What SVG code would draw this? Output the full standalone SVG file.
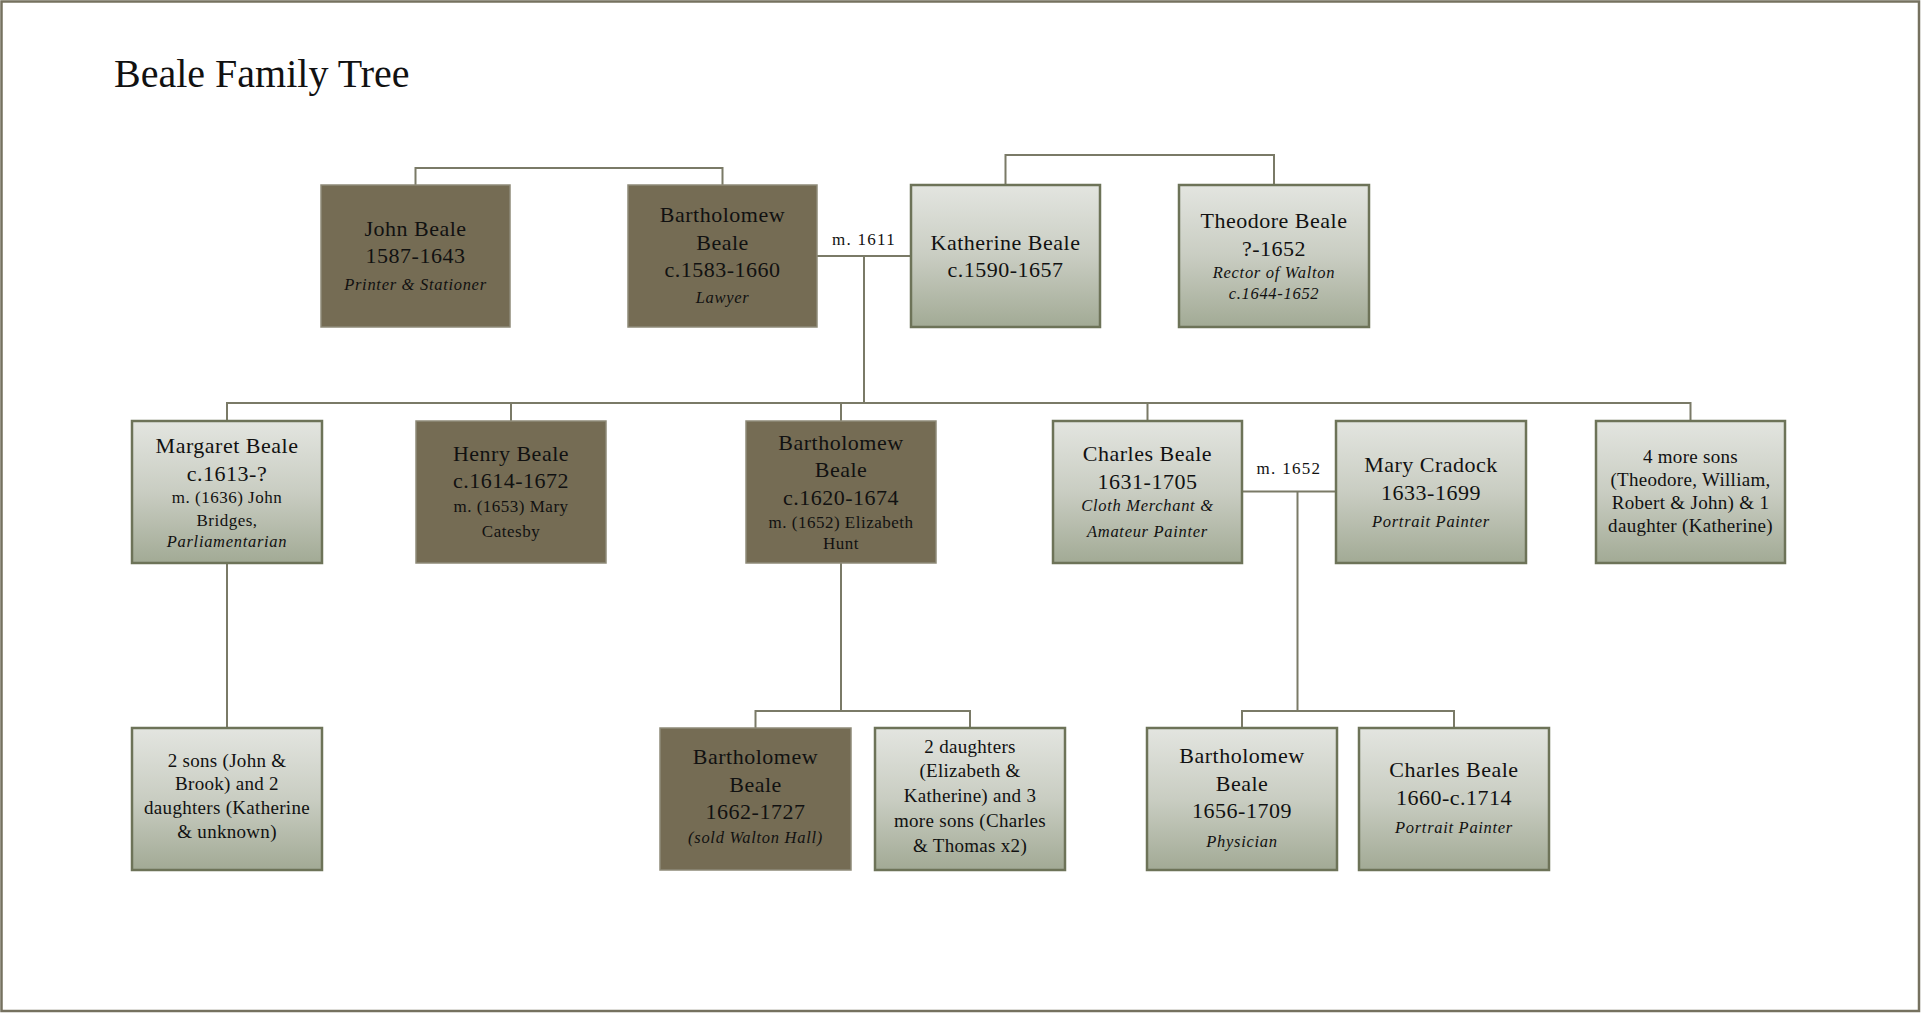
<svg xmlns="http://www.w3.org/2000/svg" width="1922" height="1013" viewBox="0 0 1922 1013">
<defs>
<linearGradient id="lg" x1="0" y1="0" x2="0" y2="1">
<stop offset="0" stop-color="#e3e5e0"/>
<stop offset="0.5" stop-color="#c9cdc2"/>
<stop offset="1" stop-color="#a2aa95"/>
</linearGradient>
<style>
.dark{fill:#756c54;stroke:#8e8a78;stroke-width:1.5}
.light{fill:url(#lg);stroke:#6d7358;stroke-width:2.5}
.conn{fill:none;stroke:#7a7a67;stroke-width:2}
text{font-family:"Liberation Serif","Times New Roman",serif;fill:#111;text-anchor:middle}
.nm{font-size:22px;letter-spacing:0.5px}
.it{font-size:16.5px;font-style:italic;letter-spacing:0.7px}
.sm{font-size:17px;letter-spacing:0.5px}
.md{font-size:19px;letter-spacing:0.3px}
.lbl{font-size:17px;letter-spacing:1.3px}
.title{font-size:40px;text-anchor:start}
</style>
</defs>
<rect x="0" y="0" width="1922" height="1013" fill="#ffffff"/>
<rect x="1.5" y="1.5" width="1917.5" height="1009.5" fill="none" stroke="#75715f" stroke-width="2.5"/>
<text class="title" x="114" y="87">Beale Family Tree</text>

<g id="connectors">
<path class="conn" d="M415.5,185 V168 H722.5 V185"/>
<path class="conn" d="M1005.5,185 V155 H1274 V185"/>
<path class="conn" d="M817,256 H911"/>
<path class="conn" d="M864,256 V403"/>
<path class="conn" d="M227,421 V403 H1690.5 V421"/>
<path class="conn" d="M511,403 V421 M841,403 V421 M1147.5,403 V421"/>
<path class="conn" d="M1242,491.5 H1336"/>
<path class="conn" d="M1297.5,491.5 V711"/>
<path class="conn" d="M227,563 V728"/>
<path class="conn" d="M841,563 V711"/>
<path class="conn" d="M755.5,728 V711 H970 V728"/>
<path class="conn" d="M1242,728 V711 H1454 V728"/>
<text class="lbl" x="864" y="245">m. 1611</text>
<text class="lbl" x="1289" y="474">m. 1652</text>
</g>

<g id="john-beale">
<rect class="dark" x="321" y="185" width="189" height="142"/>
<text class="nm" x="415.5" y="236">John Beale</text>
<text class="nm" x="415.5" y="263">1587-1643</text>
<text class="it" x="415.5" y="290">Printer &amp; Stationer</text>
</g>

<g id="bartholomew-beale-1583">
<rect class="dark" x="628" y="185" width="189" height="142"/>
<text class="nm" x="722.5" y="222">Bartholomew</text>
<text class="nm" x="722.5" y="250">Beale</text>
<text class="nm" x="722.5" y="277">c.1583-1660</text>
<text class="it" x="722.5" y="303">Lawyer</text>
</g>

<g id="katherine-beale">
<rect class="light" x="911" y="185" width="189" height="142"/>
<text class="nm" x="1005.5" y="250">Katherine Beale</text>
<text class="nm" x="1005.5" y="277">c.1590-1657</text>
</g>

<g id="theodore-beale">
<rect class="light" x="1179" y="185" width="190" height="142"/>
<text class="nm" x="1274" y="228">Theodore Beale</text>
<text class="nm" x="1274" y="256">?-1652</text>
<text class="it" x="1274" y="278">Rector of Walton</text>
<text class="it" x="1274" y="299">c.1644-1652</text>
</g>

<g id="margaret-beale">
<rect class="light" x="132" y="421" width="190" height="142"/>
<text class="nm" x="227" y="453">Margaret Beale</text>
<text class="nm" x="227" y="481">c.1613-?</text>
<text class="sm" x="227" y="503">m. (1636) John</text>
<text class="sm" x="227" y="526">Bridges,</text>
<text class="it" x="227" y="547">Parliamentarian</text>
</g>

<g id="henry-beale">
<rect class="dark" x="416" y="421" width="190" height="142"/>
<text class="nm" x="511" y="461">Henry Beale</text>
<text class="nm" x="511" y="488">c.1614-1672</text>
<text class="sm" x="511" y="512">m. (1653) Mary</text>
<text class="sm" x="511" y="537">Catesby</text>
</g>

<g id="bartholomew-beale-1620">
<rect class="dark" x="746" y="421" width="190" height="142"/>
<text class="nm" x="841" y="450">Bartholomew</text>
<text class="nm" x="841" y="477">Beale</text>
<text class="nm" x="841" y="505">c.1620-1674</text>
<text class="sm" x="841" y="528">m. (1652) Elizabeth</text>
<text class="sm" x="841" y="549">Hunt</text>
</g>

<g id="charles-beale-1631">
<rect class="light" x="1053" y="421" width="189" height="142"/>
<text class="nm" x="1147.5" y="461">Charles Beale</text>
<text class="nm" x="1147.5" y="489">1631-1705</text>
<text class="it" x="1147.5" y="511">Cloth Merchant &amp;</text>
<text class="it" x="1147.5" y="537">Amateur Painter</text>
</g>

<g id="mary-cradock">
<rect class="light" x="1336" y="421" width="190" height="142"/>
<text class="nm" x="1431" y="472">Mary Cradock</text>
<text class="nm" x="1431" y="500">1633-1699</text>
<text class="it" x="1431" y="527">Portrait Painter</text>
</g>

<g id="four-more-sons">
<rect class="light" x="1596" y="421" width="189" height="142"/>
<text class="md" x="1690.5" y="463">4 more sons</text>
<text class="md" x="1690.5" y="486">(Theodore, William,</text>
<text class="md" x="1690.5" y="509">Robert &amp; John) &amp; 1</text>
<text class="md" x="1690.5" y="532">daughter (Katherine)</text>
</g>

<g id="margaret-children">
<rect class="light" x="132" y="728" width="190" height="142"/>
<text class="md" x="227" y="767">2 sons (John &amp;</text>
<text class="md" x="227" y="790">Brook) and 2</text>
<text class="md" x="227" y="814">daughters (Katherine</text>
<text class="md" x="227" y="838">&amp; unknown)</text>
</g>

<g id="bartholomew-beale-1662">
<rect class="dark" x="660" y="728" width="191" height="142"/>
<text class="nm" x="755.5" y="764">Bartholomew</text>
<text class="nm" x="755.5" y="792">Beale</text>
<text class="nm" x="755.5" y="819">1662-1727</text>
<text class="it" x="755.5" y="843">(sold Walton Hall)</text>
</g>

<g id="bartholomew-children">
<rect class="light" x="875" y="728" width="190" height="142"/>
<text class="md" x="970" y="753">2 daughters</text>
<text class="md" x="970" y="777">(Elizabeth &amp;</text>
<text class="md" x="970" y="802">Katherine) and 3</text>
<text class="md" x="970" y="827">more sons (Charles</text>
<text class="md" x="970" y="852">&amp; Thomas x2)</text>
</g>

<g id="bartholomew-beale-1656">
<rect class="light" x="1147" y="728" width="190" height="142"/>
<text class="nm" x="1242" y="763">Bartholomew</text>
<text class="nm" x="1242" y="791">Beale</text>
<text class="nm" x="1242" y="818">1656-1709</text>
<text class="it" x="1242" y="847">Physician</text>
</g>

<g id="charles-beale-1660">
<rect class="light" x="1359" y="728" width="190" height="142"/>
<text class="nm" x="1454" y="777">Charles Beale</text>
<text class="nm" x="1454" y="805">1660-c.1714</text>
<text class="it" x="1454" y="833">Portrait Painter</text>
</g>
</svg>
